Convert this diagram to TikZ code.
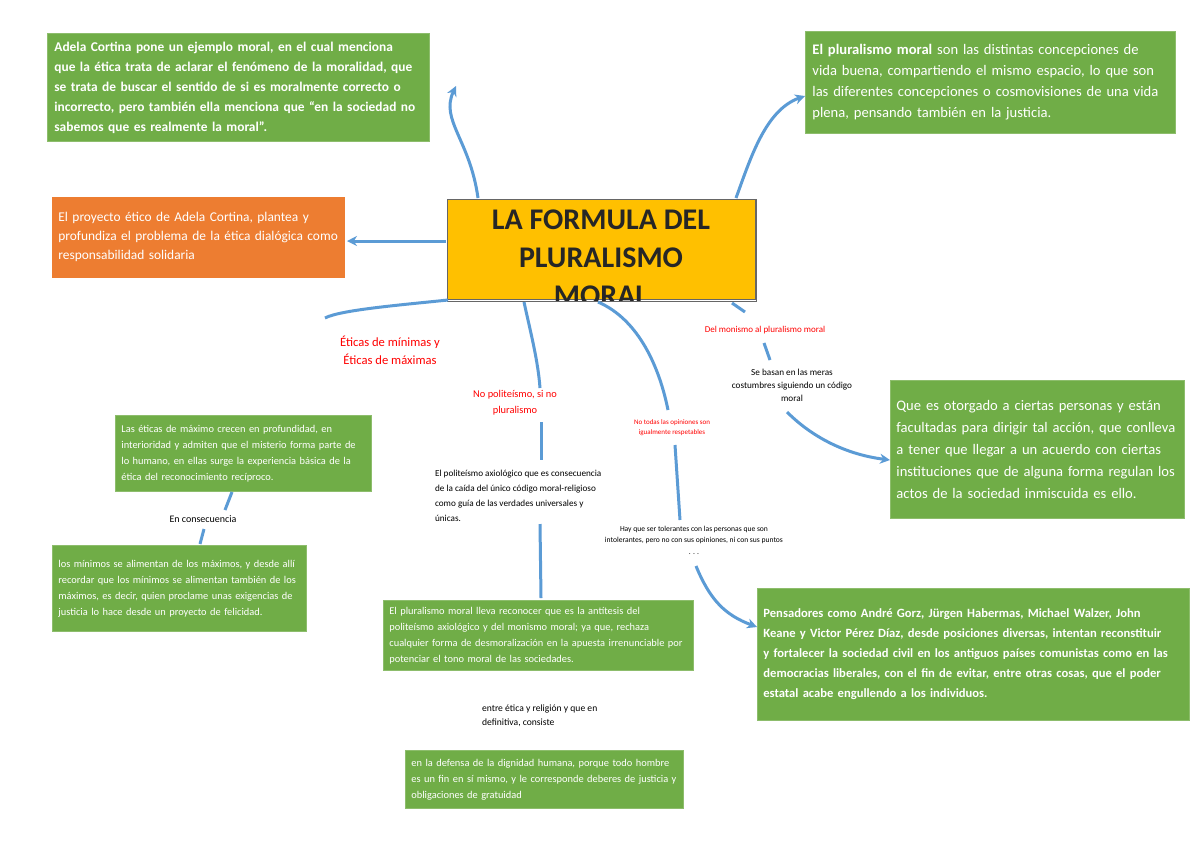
\documentclass[tikz,border=0pt]{standalone}
\usepackage{fontspec}
\setmainfont{Carlito}
\usetikzlibrary{arrows.meta}
\definecolor{gbox}{HTML}{70AD47}
\definecolor{obox}{HTML}{ED7D31}
\definecolor{ybox}{HTML}{FFC000}
\definecolor{conn}{HTML}{5B9BD5}
\begin{document}
\hyphenpenalty=10000 \exhyphenpenalty=10000
\begin{tikzpicture}[x=0.5pt,y=-0.5pt,
 box/.style={fill=gbox,draw=gbox!80!white,text=white,inner sep=3pt,align=left,anchor=north west},
 lbl/.style={align=center,font=\fontsize{5}{7}\selectfont},
 red/.style={lbl,text=red},
 c/.style={draw=conn,line width=1.5pt},
 ca/.style={c,-{Stealth[length=5pt,width=5pt]}}]
\useasboundingbox (0,0) rectangle (1200,848);
\fill[white] (0,0) rectangle (1200,848);
% central
\begin{scope}
\clip (447,199) rectangle (756,301);
\node[fill=ybox,draw=black!60,minimum width=154pt,minimum height=50pt,anchor=north west,inner sep=0pt] (ctr) at (447,199) {};
\node[anchor=north,align=center,font=\bfseries\fontsize{15}{19}\selectfont,text=black!85] at (601,203) {LA FORMULA DEL\\PLURALISMO\\MORAL};
\end{scope}
\draw[black!60] (447,199) rectangle (756,301);
% boxes
\node[box,minimum width=191pt,minimum height=54pt,text width=184pt,font=\bfseries\fontsize{6.7}{10}\selectfont] (tl) at (47,33) {Adela Cortina pone un ejemplo moral, en el cual menciona que la ética trata de aclarar el fenómeno de la moralidad, que se trata de buscar el sentido de si es moralmente correcto o incorrecto, pero también ella menciona que “en la sociedad no sabemos que es realmente la moral”.};
\node[box,minimum width=185pt,minimum height=51pt,text width=178pt,font=\fontsize{7.3}{10.5}\selectfont] (tr) at (805,31) {\textbf{El pluralismo moral} son las distintas concepciones de vida buena, compartiendo el mismo espacio, lo que son las diferentes concepciones o cosmovisiones de una vida plena, pensando también en la justicia.};
\node[box,fill=obox,draw=obox,minimum width=146pt,minimum height=40pt,text width=140pt,font=\fontsize{6.7}{9.5}\selectfont] (or) at (52,197) {El proyecto ético de Adela Cortina, plantea y profundiza el problema de la ética dialógica como responsabilidad solidaria};
\node[box,minimum width=127pt,minimum height=38pt,text width=122pt,font=\fontsize{5.2}{8}\selectfont] (max) at (115,415) {Las éticas de máximo crecen en profundidad, en interioridad y admiten que el misterio forma parte de lo humano, en ellas surge la experiencia básica de la ética del reconocimiento recíproco.};
\node[box,minimum width=126pt,minimum height=43pt,text width=121pt,font=\fontsize{5.2}{8}\selectfont] (min) at (52,545) {los mínimos se alimentan de los máximos, y desde allí recordar que los mínimos se alimentan también de los máximos, es decir, quien proclame unas exigencias de justicia lo hace desde un proyecto de felicidad.};
\node[box,minimum width=154pt,minimum height=35pt,text width=149pt,font=\fontsize{5.2}{8}\selectfont] (plu) at (383,600) {El pluralismo moral lleva reconocer que es la antítesis del politeísmo axiológico y del monismo moral; ya que, rechaza cualquier forma de desmoralización en la apuesta irrenunciable por potenciar el tono moral de las sociedades.};
\node[box,minimum width=138pt,minimum height=29pt,text width=133pt,font=\fontsize{5.2}{8}\selectfont] (def) at (405,750) {en la defensa de la dignidad humana, porque todo hombre es un fin en sí mismo, y le corresponde deberes de justicia y obligaciones de gratuidad};
\node[box,minimum width=147pt,minimum height=69pt,text width=141pt,font=\fontsize{7.3}{11}\selectfont] (que) at (890,380) {Que es otorgado a ciertas personas y están facultadas para dirigir tal acción, que conlleva a tener que llegar a un acuerdo con ciertas instituciones que de alguna forma regulan los actos de la sociedad inmiscuida es ello.};
\node[box,minimum width=214pt,minimum height=66pt,text width=210pt,font=\bfseries\fontsize{6.3}{10}\selectfont] (pen) at (757,588) {Pensadores como André Gorz, Jürgen Habermas, Michael Walzer, John Keane y Victor Pérez Díaz, desde posiciones diversas, intentan reconstituir y fortalecer la sociedad civil en los antiguos países comunistas como en las democracias liberales, con el fin de evitar, entre otras cosas, que el poder estatal acabe engullendo a los individuos.};
% labels
\node[red,font=\fontsize{6.3}{9}\selectfont] (eti) at (390,350) {Éticas de mínimas y\\Éticas de máximas};
\node[red,font=\fontsize{5.2}{8}\selectfont] (npo) at (515,403) {No politeísmo, si no\\pluralismo};
\node[red,font=\fontsize{4.5}{6}\selectfont] (mon) at (765,330) {Del monismo al pluralismo moral};
\node[red,font=\fontsize{3.5}{5}\selectfont] (ntd) at (672,428) {No todas las opiniones son\\igualmente respetables};
\node[lbl,font=\fontsize{4.6}{6.5}\selectfont] (bas) at (792,385) {Se basan en las meras\\costumbres siguiendo un código\\moral};
\node[lbl,align=left,anchor=north west,font=\fontsize{4.6}{7.5}\selectfont] (pol) at (428,463) {El politeísmo axiológico que es consecuencia\\de la caída del único código moral-religioso\\como guía de las verdades universales y\\únicas.};
\node[lbl,font=\fontsize{3.8}{5.8}\selectfont] (hay) at (694,540) {Hay que ser tolerantes con las personas que son\\intolerantes, pero no con sus opiniones, ni con sus puntos\\. . .};
\node[lbl,font=\fontsize{5}{7}\selectfont] (enc) at (203,519) {En consecuencia};
\node[lbl,align=left,anchor=north west,font=\fontsize{4.8}{7}\selectfont] (ent) at (475,698) {entre ética y religión y que en\\definitiva, consiste};
% connectors
\coordinate (c1) at (478,198); \coordinate (c2) at (736,198);
\coordinate (c3) at (446,241); \coordinate (c4) at (448,300);
\coordinate (c5) at (524,302); \coordinate (c6) at (598,302);
\coordinate (c7) at (732,303);
\draw[ca] (c1) .. controls (470,140) and (440,120) .. (456,86);
\draw[ca] (c2) .. controls (750,160) and (765,110) .. (805,96);
\draw[ca] (c3) -- (347,241);
\draw[c] (c4) .. controls (400,305) and (340,310) .. (325,318);
\draw[c] (c5) .. controls (530,330) and (538,360) .. (540,388);
\draw[c] (c6) .. controls (640,320) and (660,370) .. (668,410);
\draw[c] (c7) -- (745,312);
\draw[c] (764,343) -- (770,360);
\draw[ca] (787,412) .. controls (815,440) and (850,455) .. (890,460);
\draw[c] (232,492) -- (225,510);
\draw[c] (204,529) -- (200,544);
\draw[c] (541,422) -- (541,460);
\draw[c] (540,524) -- (541,598);
\draw[c] (675,445) -- (680,520);
\draw[ca] (696,566) .. controls (710,600) and (725,615) .. (757,627);
\end{tikzpicture}
\end{document}
